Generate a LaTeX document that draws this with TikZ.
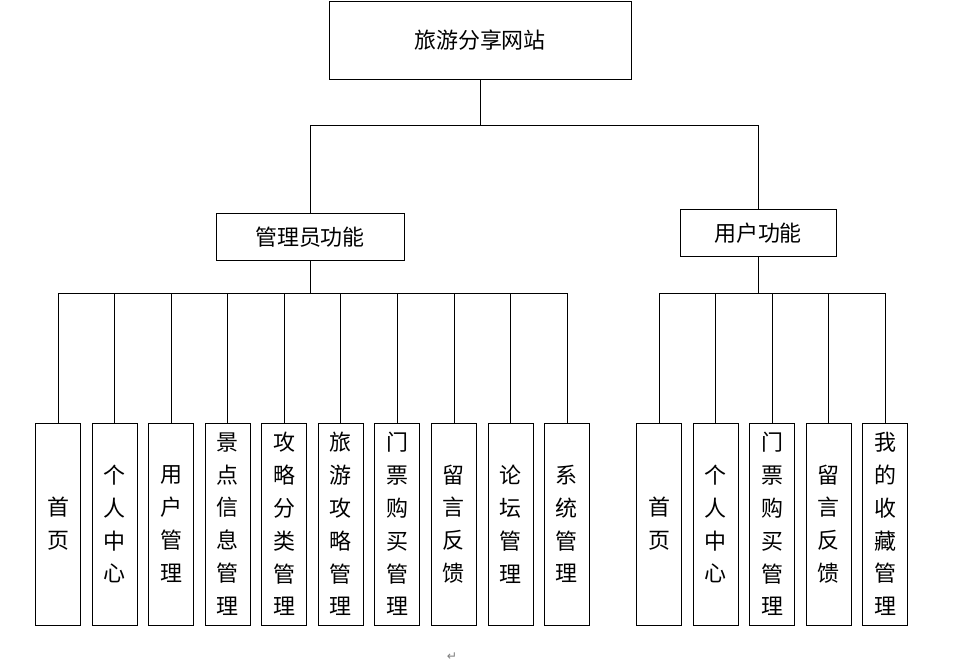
\documentclass[tikz,border=0pt]{standalone}
\usepackage{fontspec}
\setmainfont{Noto Sans CJK SC}
\newfontfamily\symfont{DejaVu Sans}
\usetikzlibrary{positioning}
\begin{document}
\begin{tikzpicture}[x=0.02cm,y=-0.02cm,
  box/.style={draw, font=\fontsize{12.5}{16}\selectfont, inner sep=0pt},
  leaf/.style={box, minimum width=0.9cm, minimum height=4.04cm, align=center, font=\fontsize{12.5}{18.7}\selectfont}]
  \useasboundingbox (0,0) rectangle (979,664);
  % top levels
  \node[box, minimum width=6.04cm, minimum height=1.56cm] (site) at (480,40) {旅游分享网站};
  \node[box, minimum width=3.76cm, minimum height=0.94cm] (adm) at (310,237) {管理员功能};
  \node[box, minimum width=3.12cm, minimum height=0.94cm] (usr) at (758,233) {用户功能};
  \coordinate (mbar) at (0,125);
  \coordinate (bar) at (0,293);
  \draw (site.south) -- (site.south |- mbar);
  \draw (adm.north) -- (adm.north |- mbar) -- (usr.north |- mbar) -- (usr.north);
  % leaves
  \foreach \t [count=\i] in {首\\页, 个\\人\\中\\心, 用\\户\\管\\理, 景\\点\\信\\息\\管\\理, 攻\\略\\分\\类\\管\\理, 旅\\游\\攻\\略\\管\\理, 门\\票\\购\\买\\管\\理, 留\\言\\反\\馈, 论\\坛\\管\\理, 系\\统\\管\\理}
    \node[leaf] (a\i) at ({58+56.55*(\i-1)},524) {\t};
  \foreach \t [count=\i] in {首\\页, 个\\人\\中\\心, 门\\票\\购\\买\\管\\理, 留\\言\\反\\馈, 我\\的\\收\\藏\\管\\理}
    \node[leaf] (u\i) at ({659+56.5*(\i-1)},524) {\t};
  \draw (adm.south) -- (adm.south |- bar);
  \draw (usr.south) -- (usr.south |- bar);
  \draw (a1.north |- bar) -- (a10.north |- bar);
  \draw (u1.north |- bar) -- (u5.north |- bar);
  \foreach \i in {1,...,10} \draw (a\i.north) -- (a\i.north |- bar);
  \foreach \i in {1,...,5} \draw (u\i.north) -- (u\i.north |- bar);
  \node[text=gray, font=\symfont\scriptsize] (mark) at (452,657) {↵};
\end{tikzpicture}
\end{document}
